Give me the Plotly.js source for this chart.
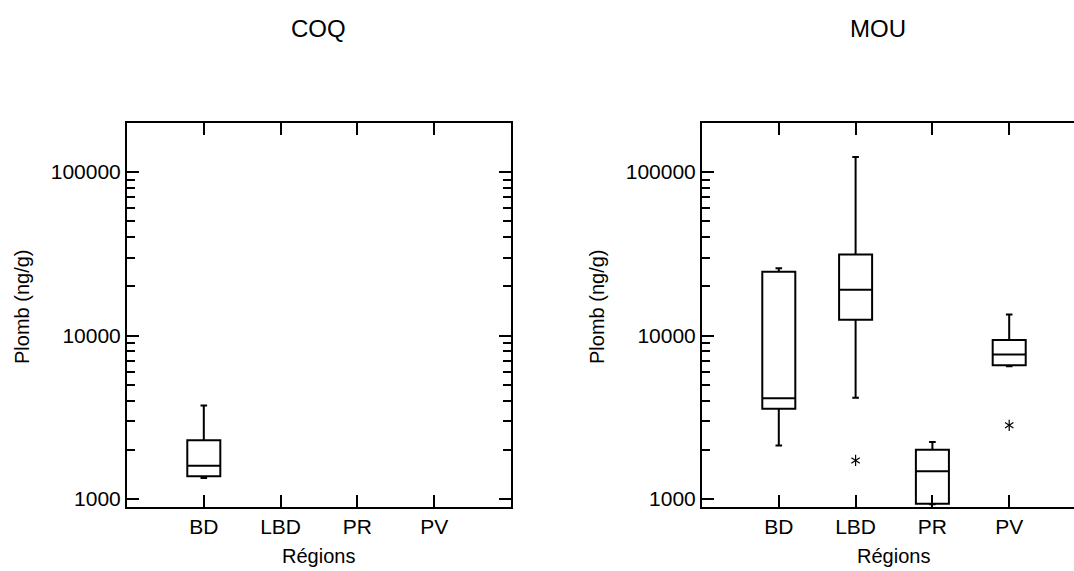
<!DOCTYPE html>
<html>
<head>
<meta charset="utf-8">
<script src="https://cdn.plot.ly/plotly-3.0.1.min.js"></script>
<style>html,body{margin:0;padding:0;overflow:hidden;background:#fff;}#chart{width:1100px;height:571px;}</style>
</head>
<body>
<div id="chart"></div>
<script>
// Categories (regions)
var categories = ['BD', 'LBD', 'PR', 'PV'];

// COQ panel box statistics (ng/g)
var coqRegions = ['BD'];
var coqLower = [1346];
var coqQ1 = [1377];
var coqMedian = [1600];
var coqQ3 = [2286];
var coqUpper = [3740];

// MOU panel box statistics (ng/g)
var mouRegions = ['BD', 'LBD', 'PR', 'PV'];
var mouLower = [2128, 4170, 930, 6500];
var mouQ1 = [3567, 12500, 935, 6580];
var mouMedian = [4130, 19050, 1477, 7670];
var mouQ3 = [24550, 31350, 2005, 9380];
var mouUpper = [25760, 123500, 2233, 13460];

// MOU outliers
var mouOutRegions = ['LBD', 'PV'];
var mouOutValues = [1722, 2825];

// Axis tick labels
var yTickVals = [1000, 10000, 100000];
var yTickText = ['1000', '10000', '100000'];
var yMinorVals = [];
[1000, 10000, 100000].forEach(function (d) { for (var k = 2; k <= 9; k++) yMinorVals.push(k * d); });

function idx(arr) { return arr.map(function (c) { return categories.indexOf(c); }); }

var boxStyle = {
  type: 'box',
  line: {color: 'black', width: 2},
  fillcolor: 'rgba(0,0,0,0)',
  width: 0.43,
  whiskerwidth: 0.2,
  boxpoints: false,
  hoverinfo: 'skip',
  showlegend: false
};

function starTrace(sym) {
  return {
    type: 'scatter', mode: 'markers', x: idx(mouOutRegions), y: mouOutValues,
    xaxis: 'x2', yaxis: 'y2', showlegend: false, hoverinfo: 'skip',
    marker: {symbol: sym, size: 7, color: 'black', line: {color: 'black', width: 1.2}}
  };
}

var traces = [
  Object.assign({}, boxStyle, {
    x: idx(coqRegions), q1: coqQ1, median: coqMedian, q3: coqQ3,
    lowerfence: coqLower, upperfence: coqUpper, xaxis: 'x', yaxis: 'y'
  }),
  Object.assign({}, boxStyle, {
    x: idx(mouRegions), q1: mouQ1, median: mouMedian, q3: mouQ3,
    lowerfence: mouLower, upperfence: mouUpper, xaxis: 'x2', yaxis: 'y2'
  }),
  starTrace('y-up-open'),
  starTrace('y-down-open')
];

var FAM = 'Liberation Sans, Arial, sans-serif';
var tickFont = {family: FAM, size: 21, color: 'black'};

function xAxis(domain, anchor) {
  return {
    domain: domain, anchor: anchor, range: [-1, 4],
    tickmode: 'array', tickvals: categories.map(function (c, i) { return i; }), ticktext: categories,
    ticks: 'inside', ticklen: 12, tickwidth: 2, tickcolor: 'black', ticklabelstandoff: 0,
    showline: true, linecolor: 'black', linewidth: 2, mirror: 'ticks',
    showgrid: false, zeroline: false, tickfont: tickFont, fixedrange: true
  };
}
function yAxis(anchor) {
  return {
    anchor: anchor, type: 'log', range: [Math.log10(894), Math.log10(199500)],
    tickmode: 'array', tickvals: yTickVals, ticktext: yTickText,
    ticks: 'inside', ticklen: 12, tickwidth: 2, tickcolor: 'black',
    minor: {tickmode: 'array', tickvals: yMinorVals, ticks: 'inside', ticklen: 8, tickwidth: 2, tickcolor: 'black', showgrid: false},
    showline: true, linecolor: 'black', linewidth: 2, mirror: 'ticks',
    showgrid: false, zeroline: false, tickfont: tickFont, fixedrange: true
  };
}

function pxX(p) { return (p - 127) / 959; }
function pxY(p) { return (507 - p) / 384; }

var annotations = [
  {text: 'COQ', x: pxX(318), y: pxY(29), font: {family: FAM, size: 24, color: 'black'}},
  {text: 'MOU', x: pxX(878), y: pxY(29), font: {family: FAM, size: 24, color: 'black'}},
  {text: 'Régions', x: pxX(318), y: pxY(556)},
  {text: 'Régions', x: pxX(893), y: pxY(556)},
  {text: 'Plomb (ng/g)', x: pxX(22), y: pxY(307), textangle: -90},
  {text: 'Plomb (ng/g)', x: pxX(597), y: pxY(307), textangle: -90}
].map(function (a) {
  return Object.assign({xref: 'paper', yref: 'paper', showarrow: false, xanchor: 'center', yanchor: 'middle',
    font: {family: FAM, size: 20, color: 'black'}}, a);
});

var layout = {
  width: 1100, height: 571,
  margin: {l: 127, r: 14, t: 123, b: 64},
  paper_bgcolor: 'white', plot_bgcolor: 'white',
  font: {family: FAM, size: 20, color: 'black'},
  showlegend: false,
  xaxis: xAxis([0, 384 / 959], 'y'),
  yaxis: yAxis('x'),
  xaxis2: xAxis([575 / 959, 1], 'y2'),
  yaxis2: yAxis('x2'),
  annotations: annotations
};

Plotly.newPlot('chart', traces, layout, {displayModeBar: false, staticPlot: true});
</script>
</body>
</html>
